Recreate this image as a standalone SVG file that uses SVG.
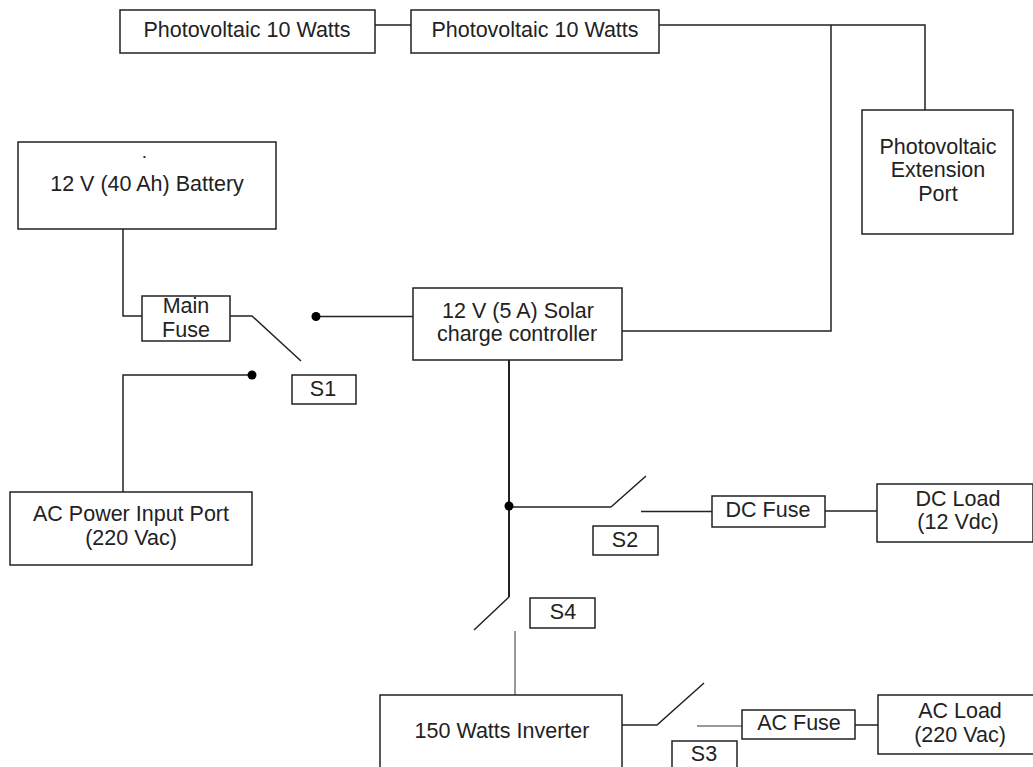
<svg xmlns="http://www.w3.org/2000/svg" width="1033" height="767" viewBox="0 0 1033 767">
<style>
.b{fill:#fff;stroke:#222;stroke-width:1.5}
.c{fill:none;stroke:#222;stroke-width:1.5}
.t{stroke-width:2}
.g{stroke:#777}
circle{fill:#000}
text{font-family:"Liberation Sans",Arial,sans-serif;font-size:21.500px;fill:#222;text-anchor:middle}
</style>
<rect width="1033" height="767" fill="#fff"/>
<g id="connectors">
<path class="c" d="M375 25H411M659 25H925V110M831 25V331H622M123 229V316H142M230 316H252L301 361M316 316.500H413M123 492V375H252M611 507H509M611 507L646 476M641 511.500H712M825 511H877M622 725H657L704 683M855 725H878M509 597L474 630"/>
<path class="c t" d="M509 360V597"/>
<path class="c g" d="M515 631V695M697 726H742"/>
<circle cx="316" cy="316.500" r="4.500"/><circle cx="252" cy="375" r="4.500"/><circle cx="509" cy="506" r="4.500"/>
</g>
<g id="pv1"><rect class="b" x="120" y="10" width="255" height="43"/><text x="247" y="37">Photovoltaic 10 Watts</text></g>
<g id="pv2"><rect class="b" x="411" y="10" width="248" height="43"/><text x="535" y="37">Photovoltaic 10 Watts</text></g>
<g id="ext"><rect class="b" x="862" y="110" width="151" height="124"/><text x="938" y="154">Photovoltaic</text><text x="938" y="177">Extension</text><text x="938" y="201">Port</text></g>
<g id="battery"><rect class="b" x="18" y="142" width="258" height="87"/><text x="144.500" y="158" style="font-size:19px">.</text><text x="147" y="191">12 V (40 Ah) Battery</text></g>
<g id="fuse"><rect class="b" x="142" y="296" width="88" height="45"/><text x="186" y="313">Main</text><text x="186" y="337">Fuse</text></g>
<g id="controller"><rect class="b" x="413" y="288" width="209" height="72"/><text x="518" y="318">12 V (5 A) Solar</text><text x="517" y="341">charge controller</text></g>
<g id="s1"><rect class="b" x="292" y="375" width="64" height="29"/><text x="323" y="396">S1</text></g>
<g id="acin"><rect class="b" x="10" y="492" width="242" height="73"/><text x="131" y="521">AC Power Input Port</text><text x="131" y="545">(220 Vac)</text></g>
<g id="s2"><rect class="b" x="593" y="526" width="65" height="29"/><text x="625" y="547">S2</text></g>
<g id="dcfuse"><rect class="b" x="712" y="496" width="113" height="31"/><text x="768" y="517">DC Fuse</text></g>
<g id="dcload"><rect class="b" x="877" y="484" width="156" height="58"/><text x="958" y="506">DC Load</text><text x="958" y="529">(12 Vdc)</text></g>
<g id="s4"><rect class="b" x="530" y="598" width="65" height="30"/><text x="563" y="619">S4</text></g>
<g id="inverter"><rect class="b" x="380" y="695" width="242" height="80"/><text x="502" y="738">150 Watts Inverter</text></g>
<g id="s3"><rect class="b" x="672" y="741" width="65" height="30"/><text x="704" y="761">S3</text></g>
<g id="acfuse"><rect class="b" x="742" y="710" width="113" height="29"/><text x="799" y="730">AC Fuse</text></g>
<g id="acload"><rect class="b" x="878" y="695" width="156" height="59"/><text x="960" y="718">AC Load</text><text x="960" y="742">(220 Vac)</text></g>
</svg>
